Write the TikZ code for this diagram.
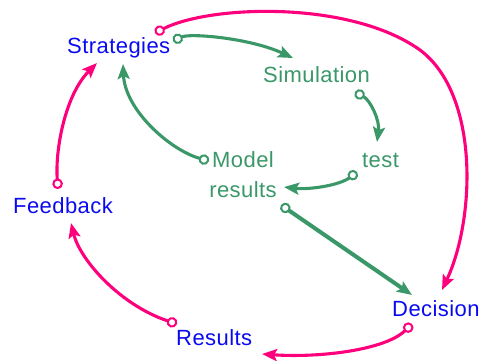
\documentclass[tikz,border=0pt]{standalone}
\usepackage{fontspec}
\setmainfont[LetterSpace=2]{Liberation Sans}
\usetikzlibrary{arrows.meta}
\definecolor{loopred}{RGB}{255,0,125}
\definecolor{loopgreen}{RGB}{58,152,104}
\definecolor{labelblue}{RGB}{10,10,240}
\begin{document}
\begin{tikzpicture}[x=1pt,y=-1pt,
  lbl/.style={inner sep=0pt,font=\fontsize{22}{30}\selectfont},
  outer/.style={lbl,text=labelblue,anchor=base west},
  inner/.style={lbl,text=loopgreen,anchor=base west},
  link/.style={line width=3.1pt,
    {Circle[open,length=10.5pt,width=10.5pt,line width=2pt]}-{Stealth[length=15pt,width=12pt,inset=3pt]}},
  redlink/.style={link,draw=loopred},
  greenlink/.style={link,draw=loopgreen}]
\useasboundingbox (0,0) rectangle (482,361);

% variables
\node[outer] (strat) at (67,54) {Strategies};
\node[inner] (sim) at (263,83) {Simulation};
\node[inner] (test) at (362,167) {test};
\node[lbl,text=loopgreen,align=center,anchor=base] (model) at (243,197) {Model\\results};
\node[outer] (feed) at (13,213) {Feedback};
\node[outer] (res) at (176,345) {Results};
\node[outer] (dec) at (392,316) {Decision};

% link end points
\coordinate (strat-r) at (155,33);
\coordinate (strat-g) at (173,41);
\coordinate (strat-in1) at (97,63);
\coordinate (strat-in2) at (123,64);
\coordinate (sim-in) at (293,58);
\coordinate (sim-out) at (355,92);
\coordinate (test-in) at (377,142);
\coordinate (test-out) at (357,172);
\coordinate (model-in) at (284,187);
\coordinate (model-out1) at (209,161);
\coordinate (model-out2) at (281,205);
\coordinate (dec-in1) at (442,290);
\coordinate (dec-in2) at (412,295);
\coordinate (dec-out) at (412,324);
\coordinate (res-in) at (262,354);
\coordinate (res-out) at (177,324);
\coordinate (feed-in) at (71,223);
\coordinate (feed-out) at (58,189);

% outer loop
\draw[redlink] (strat-r) .. controls (210,5) and (350,0) .. (420,50)
  .. controls (480,95) and (475,220) .. (dec-in1);
\draw[redlink] (dec-out) .. controls (385,350) and (320,358) .. (res-in);
\draw[redlink] (res-out) .. controls (120,305) and (80,260) .. (feed-in);
\draw[redlink] (feed-out) .. controls (55,150) and (65,95) .. (strat-in1);

% inner loop
\draw[greenlink] (strat-g) .. controls (190,33) and (250,38) .. (sim-in);
\draw[greenlink] (sim-out) .. controls (370,100) and (380,120) .. (test-in);
\draw[greenlink] (test-out) .. controls (340,185) and (310,190) .. (model-in);
\draw[greenlink] (model-out1) .. controls (170,150) and (125,110) .. (strat-in2);
\draw[greenlink,line width=4pt] (model-out2) -- (dec-in2);
\end{tikzpicture}
\end{document}
